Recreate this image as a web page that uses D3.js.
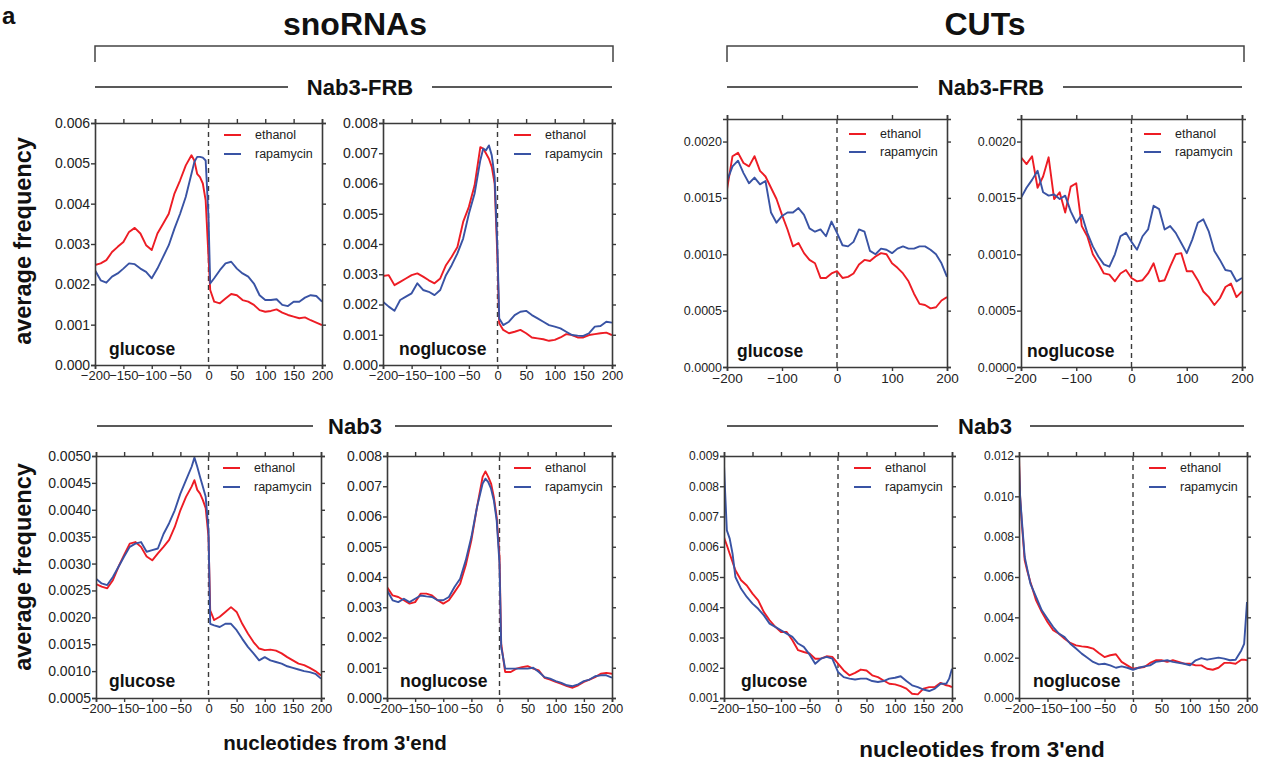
<!DOCTYPE html>
<html><head><meta charset="utf-8">
<script src="https://cdn.jsdelivr.net/npm/d3@7"></script>
<style>
html,body{margin:0;padding:0;background:#fff;}
svg{display:block;font-family:"Liberation Sans",Arial,Helvetica,sans-serif;}
</style></head>
<body>
<svg id="chart" width="1265" height="763"></svg>
<script>
// ---------- x positions (nucleotides from 3'end) ----------
const X_SNO = [-200,-190,-180,-170,-160,-150,-140,-130,-120,-110,-100,-90,-80,-70,-60,-50,-40,-30,-25,-20,-15,-10,-5,0,3,10,20,30,40,50,60,70,80,90,100,110,120,130,140,150,160,170,180,190,200];
const X_CUT_FRB = [-200,-190,-180,-170,-160,-150,-140,-130,-120,-110,-100,-90,-80,-70,-60,-50,-40,-30,-20,-10,0,10,20,30,40,50,60,70,80,90,100,110,120,130,140,150,160,170,180,190,200];
const X_CUT_NAB3 = [-200,-198,-195,-190,-185,-180,-170,-160,-150,-140,-130,-120,-110,-100,-90,-80,-70,-60,-50,-40,-30,-20,-10,0,10,20,30,40,50,60,70,80,90,100,110,120,130,140,150,160,170,180,190,195,200];

// ---------- tick labels ----------
const TICKS_X50 = [-200,-150,-100,-50,0,50,100,150,200];
const TICKS_X100 = [-200,-100,0,100,200];
const TICKS_Y_SNO_FRB_GLU = [0,0.001,0.002,0.003,0.004,0.005,0.006];
const TICKS_Y_008 = [0,0.001,0.002,0.003,0.004,0.005,0.006,0.007,0.008];
const TICKS_Y_CUT_FRB = [0,0.0005,0.001,0.0015,0.002];
const TICKS_Y_SNO_NAB3_GLU = [0.0005,0.001,0.0015,0.002,0.0025,0.003,0.0035,0.004,0.0045,0.005];
const TICKS_Y_CUT_NAB3_GLU = [0.001,0.002,0.003,0.004,0.005,0.006,0.007,0.008,0.009];
const TICKS_Y_CUT_NAB3_NOGLU = [0,0.002,0.004,0.006,0.008,0.010,0.012];

const SERIES_NAMES = ["ethanol","rapamycin"];

// ---------- snoRNAs, Nab3-FRB ----------
const snoFrbGlu_eth = [0.00248,0.00252,0.0026,0.0028,0.00293,0.00305,0.0033,0.0034,0.00326,0.00297,0.00285,0.00326,0.0035,0.00375,0.00425,0.00458,0.00495,0.0052,
 0.00507,0.00474,0.00466,0.0045,0.00408,0.00268,0.00186,
 0.00157,0.00153,0.00165,0.00176,0.00173,0.00161,0.00157,0.00149,0.00136,0.00132,0.00134,0.00138,0.0013,0.00124,0.0012,0.00116,0.00118,0.00111,0.00105,0.00099];
const snoFrbGlu_rap = [0.00235,0.0021,0.00204,0.00219,0.00227,0.00239,0.00252,0.0025,0.00239,0.00231,0.00215,0.00239,0.00268,0.00297,0.00338,0.00375,0.00417,0.00474,
 0.00503,0.00516,0.00516,0.00514,0.00507,0.00367,0.00202,
 0.00215,0.00235,0.00252,0.00256,0.00239,0.00227,0.00219,0.00202,0.00173,0.00161,0.00161,0.00163,0.00149,0.00146,0.00157,0.00157,0.00167,0.00173,0.00171,0.00157];
const snoFrbNoglu_eth = [0.00294,0.00297,0.00264,0.00275,0.00286,0.00297,0.00303,0.00292,0.0028,0.0027,0.00286,0.0033,0.00358,0.0039,0.00473,0.00523,0.00594,0.0072,
 0.00715,0.00699,0.00682,0.00655,0.006,0.00347,0.00138,
 0.00116,0.00105,0.0011,0.00116,0.00105,0.00091,0.00088,0.00085,0.0008,0.00083,0.00091,0.00102,0.00099,0.00091,0.00091,0.00099,0.00102,0.00105,0.00107,0.00099];
const snoFrbNoglu_rap = [0.00209,0.00193,0.00179,0.00215,0.00226,0.00237,0.0027,0.00248,0.00242,0.00231,0.00248,0.00297,0.0033,0.00369,0.00418,0.005,0.00567,0.00677,
 0.00715,0.0071,0.00726,0.00693,0.00622,0.0038,0.00154,
 0.00132,0.00143,0.00165,0.00176,0.00179,0.00165,0.00154,0.00143,0.00132,0.00127,0.00121,0.0011,0.00099,0.00097,0.00096,0.00105,0.00127,0.00129,0.00143,0.0014];

// ---------- snoRNAs, Nab3 ----------
const snoNab3Glu_eth = [0.00262,0.00257,0.00254,0.00269,0.00294,0.00316,0.00337,0.0034,0.00331,0.00313,0.00306,0.00319,0.00331,0.00344,0.00368,0.00399,0.00424,0.00443,
 0.00455,0.00437,0.0043,0.00418,0.00403,0.0035,0.00213,
 0.00195,0.00201,0.0021,0.00219,0.0021,0.00188,0.0017,0.00154,0.00142,0.00139,0.0014,0.00138,0.00133,0.00126,0.0012,0.00114,0.00111,0.00106,0.001,0.00092];
const snoNab3Glu_rap = [0.00272,0.00263,0.0026,0.00275,0.00294,0.00313,0.00331,0.00337,0.0034,0.00322,0.00325,0.00328,0.00355,0.00375,0.00399,0.0043,0.00455,0.0048,
 0.00497,0.0048,0.00461,0.00443,0.00424,0.00362,0.00188,
 0.00185,0.00182,0.00188,0.00188,0.00176,0.0016,0.00145,0.00133,0.0012,0.00126,0.0012,0.00117,0.00114,0.00109,0.00106,0.00103,0.001,0.00098,0.00095,0.00086];
const snoNab3Noglu_eth = [0.00367,0.00339,0.00334,0.00323,0.00312,0.00317,0.00345,0.00345,0.00339,0.00323,0.00312,0.00323,0.0035,0.00378,0.00439,0.00521,0.00631,0.00731,
 0.00749,0.00731,0.00709,0.00664,0.00598,0.00466,0.0018,
 0.00086,0.00086,0.00097,0.00102,0.00105,0.00097,0.00091,0.00067,0.00061,0.00053,0.00047,0.00039,0.00034,0.00042,0.00053,0.00061,0.00069,0.0008,0.00083,0.0008];
const snoNab3Noglu_rap = [0.00356,0.00323,0.00317,0.00328,0.00317,0.00328,0.00339,0.00336,0.00334,0.00323,0.00323,0.00334,0.00367,0.00394,0.00455,0.00532,0.00631,0.00709,
 0.00725,0.00714,0.00692,0.00653,0.00587,0.00444,0.00169,
 0.00097,0.00097,0.00097,0.00097,0.00097,0.001,0.00086,0.00069,0.00064,0.00056,0.0005,0.00042,0.00039,0.00045,0.00056,0.00061,0.00072,0.00075,0.00075,0.00067];

// ---------- CUTs, Nab3-FRB ----------
const cutFrbGlu_eth = [0.001575,0.00187,0.0019,0.00181,0.00178,0.00187,0.00174,0.00169,0.00159,0.00149,0.00135,0.00122,0.00107,0.0011,0.00101,0.00095,0.00092,0.00079,0.00079,0.00083,
 0.00085,0.00079,0.0008,0.00083,0.00091,0.00095,0.00094,0.00098,0.00101,0.001,0.00092,0.00088,0.00083,0.00076,0.00065,0.00056,0.00055,0.00052,0.00053,0.00059,0.00062];
const cutFrbGlu_rap = [0.00165,0.00178,0.00183,0.00172,0.00163,0.00168,0.00162,0.00165,0.00137,0.00128,0.00134,0.00137,0.00137,0.00141,0.00135,0.00123,0.0012,0.00122,0.00116,0.00129,
 0.00119,0.00108,0.00107,0.00111,0.00122,0.0012,0.00103,0.001,0.00105,0.00104,0.00101,0.00105,0.00107,0.00105,0.00105,0.00107,0.00107,0.00104,0.001,0.00092,0.0008];
const cutFrbNoglu_eth = [0.00186,0.0018,0.00187,0.00159,0.00169,0.00186,0.00149,0.00155,0.00137,0.0016,0.00163,0.00125,0.00116,0.001,0.00092,0.00083,0.00082,0.00076,0.00083,0.00086,
 0.00079,0.00076,0.00077,0.00083,0.00092,0.00076,0.00077,0.00089,0.001,0.00101,0.00085,0.00085,0.00077,0.00067,0.00062,0.00055,0.00061,0.00071,0.00074,0.00062,0.00067];
const cutFrbNoglu_rap = [0.0015,0.00159,0.00166,0.00174,0.00155,0.00152,0.00153,0.00149,0.00152,0.00138,0.00128,0.00135,0.00119,0.00107,0.00098,0.00091,0.00089,0.001,0.00116,0.00119,
 0.00111,0.00104,0.00116,0.00122,0.00143,0.0014,0.00122,0.00125,0.00119,0.0011,0.00101,0.00113,0.00128,0.00131,0.0012,0.00103,0.00095,0.00086,0.00085,0.00076,0.00079];

// ---------- CUTs, Nab3 ----------
const cutNab3Glu_eth = [0.00632,0.0062,0.00605,0.00577,0.0055,0.00522,
 0.00489,0.00472,0.00445,0.00423,0.00384,0.00357,0.00335,0.00318,0.00318,0.00291,0.00258,0.00252,0.00247,0.0023,0.0023,0.00238,0.00236,
 0.00214,0.00191,0.00175,0.00183,0.00194,0.00191,0.00175,0.00169,0.00158,0.00147,0.00145,0.00139,0.00131,0.00114,0.00112,0.00131,0.00136,0.00136,0.0015,0.00142,
 0.0014,0.00136];
const cutNab3Glu_rap = [0.00869,0.0078,0.00654,0.00627,0.00577,0.005,
 0.00461,0.00434,0.00412,0.00395,0.00373,0.00346,0.00335,0.00324,0.00313,0.00302,0.0028,0.00269,0.00244,0.00213,0.0023,0.00236,0.0023,
 0.00186,0.00169,0.00164,0.00161,0.00164,0.00164,0.00156,0.00153,0.00156,0.00164,0.00167,0.00172,0.00156,0.00142,0.00136,0.00128,0.00123,0.00131,0.00147,0.00147,
 0.00164,0.00197];
const cutNab3Noglu_eth = [0.01195,0.00997,0.00864,0.00683,0.00625,0.00575,
 0.00484,0.00426,0.00377,0.00336,0.00319,0.00294,0.00273,0.00261,0.00256,0.00253,0.00245,0.00223,0.00203,0.00212,0.00217,0.00179,0.00162,
 0.00145,0.0015,0.00154,0.00174,0.00187,0.00187,0.00179,0.00187,0.00179,0.0017,0.0017,0.00162,0.00162,0.00145,0.0014,0.0015,0.00174,0.00174,0.0017,0.0019,
 0.0019,0.00187];
const cutNab3Noglu_rap = [0.01162,0.00997,0.00881,0.00699,0.00633,0.00567,
 0.00501,0.00435,0.00393,0.00352,0.00319,0.00302,0.00269,0.00245,0.0022,0.002,0.00179,0.00167,0.0017,0.00162,0.0015,0.00157,0.0015,
 0.0014,0.0015,0.00157,0.00162,0.00179,0.00183,0.00187,0.00179,0.00174,0.0017,0.00162,0.00187,0.00198,0.0019,0.00195,0.002,0.00195,0.00187,0.0019,0.00236,
 0.00269,0.00476];

// ---------- panel definitions (data refs + layout) ----------
const RED = "#ed1c24", BLUE = "#3953a4", AX = "#3a3a3a";
const panels = [
 {xs:X_SNO, eth:snoFrbGlu_eth, rap:snoFrbGlu_rap, label:"glucose", yDom:[0,0.006], yTicks:TICKS_Y_SNO_FRB_GLU, yFmt:".3f", xTicks:TICKS_X50,
  box:[95,123,322,365], yFs:14, xFs:13, lab:[14,10], leg:[12,31]},
 {xs:X_SNO, eth:snoFrbNoglu_eth, rap:snoFrbNoglu_rap, label:"noglucose", yDom:[0,0.008], yTicks:TICKS_Y_008, yFmt:".3f", xTicks:TICKS_X50,
  box:[383,123,612,365], yFs:14, xFs:13, lab:[16,10], leg:[12,31]},
 {xs:X_CUT_FRB, eth:cutFrbGlu_eth, rap:cutFrbGlu_rap, label:"glucose", yDom:[0,0.0022], yTicks:TICKS_Y_CUT_FRB, yFmt:".4f", xTicks:TICKS_X100,
  box:[727,119,947,367], yFs:12.5, xFs:13.5, lab:[10,10], leg:[15,33]},
 {xs:X_CUT_FRB, eth:cutFrbNoglu_eth, rap:cutFrbNoglu_rap, label:"noglucose", yDom:[0,0.0022], yTicks:TICKS_Y_CUT_FRB, yFmt:".4f", xTicks:TICKS_X100,
  box:[1021,119,1242,367], yFs:12.5, xFs:13.5, lab:[6,10], leg:[15,33]},
 {xs:X_SNO, eth:snoNab3Glu_eth, rap:snoNab3Glu_rap, label:"glucose", yDom:[0.0005,0.005], yTicks:TICKS_Y_SNO_NAB3_GLU, yFmt:".4f", xTicks:TICKS_X50,
  box:[96,456,321,698], yFs:14, xFs:13, lab:[13,11], leg:[12,31]},
 {xs:X_SNO, eth:snoNab3Noglu_eth, rap:snoNab3Noglu_rap, label:"noglucose", yDom:[0,0.008], yTicks:TICKS_Y_008, yFmt:".3f", xTicks:TICKS_X50,
  box:[387,456,612,698], yFs:14, xFs:13, lab:[13,11], leg:[12,31]},
 {xs:X_CUT_NAB3, eth:cutNab3Glu_eth, rap:cutNab3Glu_rap, label:"glucose", yDom:[0.001,0.009], yTicks:TICKS_Y_CUT_NAB3_GLU, yFmt:".3f", xTicks:TICKS_X50,
  box:[724,456,952,698], yFs:12, xFs:13, lab:[17,11], leg:[12,31]},
 {xs:X_CUT_NAB3, eth:cutNab3Noglu_eth, rap:cutNab3Noglu_rap, label:"noglucose", yDom:[0,0.012], yTicks:TICKS_Y_CUT_NAB3_NOGLU, yFmt:".3f", xTicks:TICKS_X50,
  box:[1019,456,1247,698], yFs:12, xFs:13, lab:[14,11], leg:[12,31]}
];

const svg = d3.select("#chart");
const defs = svg.append("defs");

panels.forEach((p, i) => {
  const [x0, y0, x1, y1] = p.box;
  const x = d3.scaleLinear().domain([-200, 200]).range([x0, x1]);
  const y = d3.scaleLinear().domain(p.yDom).range([y1, y0]);
  const g = svg.append("g");

  defs.append("clipPath").attr("id", "clip" + i)
    .append("rect").attr("x", x0).attr("y", y0).attr("width", x1 - x0).attr("height", y1 - y0);

  // dashed zero line
  g.append("line").attr("x1", x(0)).attr("x2", x(0)).attr("y1", y0).attr("y2", y1)
    .attr("stroke", AX).attr("stroke-width", 1.4).attr("stroke-dasharray", "5,4");

  // lines
  const line = d3.line().x(d => x(d[0])).y(d => y(d[1]));
  [[p.eth, RED], [p.rap, BLUE]].forEach(([vals, col]) => {
    g.append("path").datum(p.xs.map((xv, k) => [xv, vals[k]]))
      .attr("d", line).attr("fill", "none").attr("stroke", col)
      .attr("stroke-width", 1.9).attr("stroke-linejoin", "round")
      .attr("clip-path", `url(#clip${i})`);
  });

  // axes
  const fmt = d3.format(p.yFmt);
  const axL = g.append("g").attr("transform", `translate(${x0},0)`)
    .call(d3.axisLeft(y).tickValues(p.yTicks).tickFormat(fmt).tickSizeOuter(0).tickSize(4).tickPadding(1));
  const axR = g.append("g").attr("transform", `translate(${x1},0)`)
    .call(d3.axisRight(y).tickValues(p.yTicks).tickFormat("").tickSizeOuter(0).tickSize(4));
  const axB = g.append("g").attr("transform", `translate(0,${y1})`)
    .call(d3.axisBottom(x).tickValues(p.xTicks).tickFormat(d3.format("d")).tickSizeOuter(0).tickSize(4).tickPadding(2));
  const axT = g.append("g").attr("transform", `translate(0,${y0})`)
    .call(d3.axisTop(x).tickValues(p.xTicks).tickFormat("").tickSizeOuter(0).tickSize(4));
  [axL, axR, axB, axT].forEach(a => {
    a.select(".domain").attr("stroke", AX).attr("stroke-width", 1.6);
    a.selectAll(".tick line").attr("stroke", AX).attr("stroke-width", 1.4);
    a.selectAll("text").attr("fill", "#222").attr("font-family", "Liberation Sans, Arial, sans-serif");
  });
  axL.selectAll("text").attr("font-size", p.yFs);
  axB.selectAll("text").attr("font-size", p.xFs);

  // legend
  const lx = x1 - 98;
  [[SERIES_NAMES[0], RED, p.leg[0]], [SERIES_NAMES[1], BLUE, p.leg[1]]].forEach(([name, col, dy]) => {
    g.append("line").attr("x1", lx).attr("x2", lx + 17).attr("y1", y0 + dy).attr("y2", y0 + dy)
      .attr("stroke", col).attr("stroke-width", 2);
    g.append("text").attr("x", lx + 31).attr("y", y0 + dy).attr("dy", "0.35em")
      .attr("font-size", 12.5).attr("fill", "#222").text(name);
  });

  // condition label
  g.append("text").attr("x", x0 + p.lab[0]).attr("y", y1 - p.lab[1])
    .attr("font-size", 17.5).attr("font-weight", "bold").attr("fill", "#111").text(p.label);
});

// ---------- headers ----------
const H = svg.append("g").attr("fill", "#111").attr("font-weight", "bold");
H.append("text").attr("x", 2).attr("y", 24).attr("font-size", 24).text("a");

const groups = [
  {title:"snoRNAs", cx:355, x0:95, x1:613, frbCx:360, frbL:[95,288], frbR:[432,612], nabCx:355, nabL:[97,313], nabR:[395,612]},
  {title:"CUTs", cx:985, x0:727, x1:1244, frbCx:991, frbL:[727,918], frbR:[1063,1242], nabCx:985, nabL:[727,938], nabR:[1030,1244]}
];
groups.forEach(gr => {
  H.append("text").attr("x", gr.cx).attr("y", 35).attr("text-anchor", "middle").attr("font-size", 32).text(gr.title);
  H.append("path").attr("d", `M${gr.x0},62V46H${gr.x1}V62`).attr("fill", "none").attr("stroke", "#444").attr("stroke-width", 1.5);
  [[87, gr.frbL, gr.frbR], [426, gr.nabL, gr.nabR]].forEach(([yy, L, R]) => {
    H.append("line").attr("x1", L[0]).attr("x2", L[1]).attr("y1", yy).attr("y2", yy).attr("stroke", "#222").attr("stroke-width", 1.3);
    H.append("line").attr("x1", R[0]).attr("x2", R[1]).attr("y1", yy).attr("y2", yy).attr("stroke", "#222").attr("stroke-width", 1.3);
  });
  H.append("text").attr("x", gr.frbCx).attr("y", 87).attr("dy", "0.35em").attr("text-anchor", "middle").attr("font-size", 22).text("Nab3-FRB");
  H.append("text").attr("x", gr.nabCx).attr("y", 426).attr("dy", "0.35em").attr("text-anchor", "middle").attr("font-size", 22).text("Nab3");
});

// y-axis titles
[241, 567].forEach(cy => {
  H.append("text").attr("transform", `translate(31,${cy}) rotate(-90)`).attr("text-anchor", "middle")
    .attr("font-size", 23.5).text("average frequency");
});
// x-axis titles
H.append("text").attr("x", 335).attr("y", 750).attr("text-anchor", "middle").attr("font-size", 20.5).text("nucleotides from 3'end");
H.append("text").attr("x", 982).attr("y", 757).attr("text-anchor", "middle").attr("font-size", 22.5).text("nucleotides from 3'end");
</script>
</body></html>
